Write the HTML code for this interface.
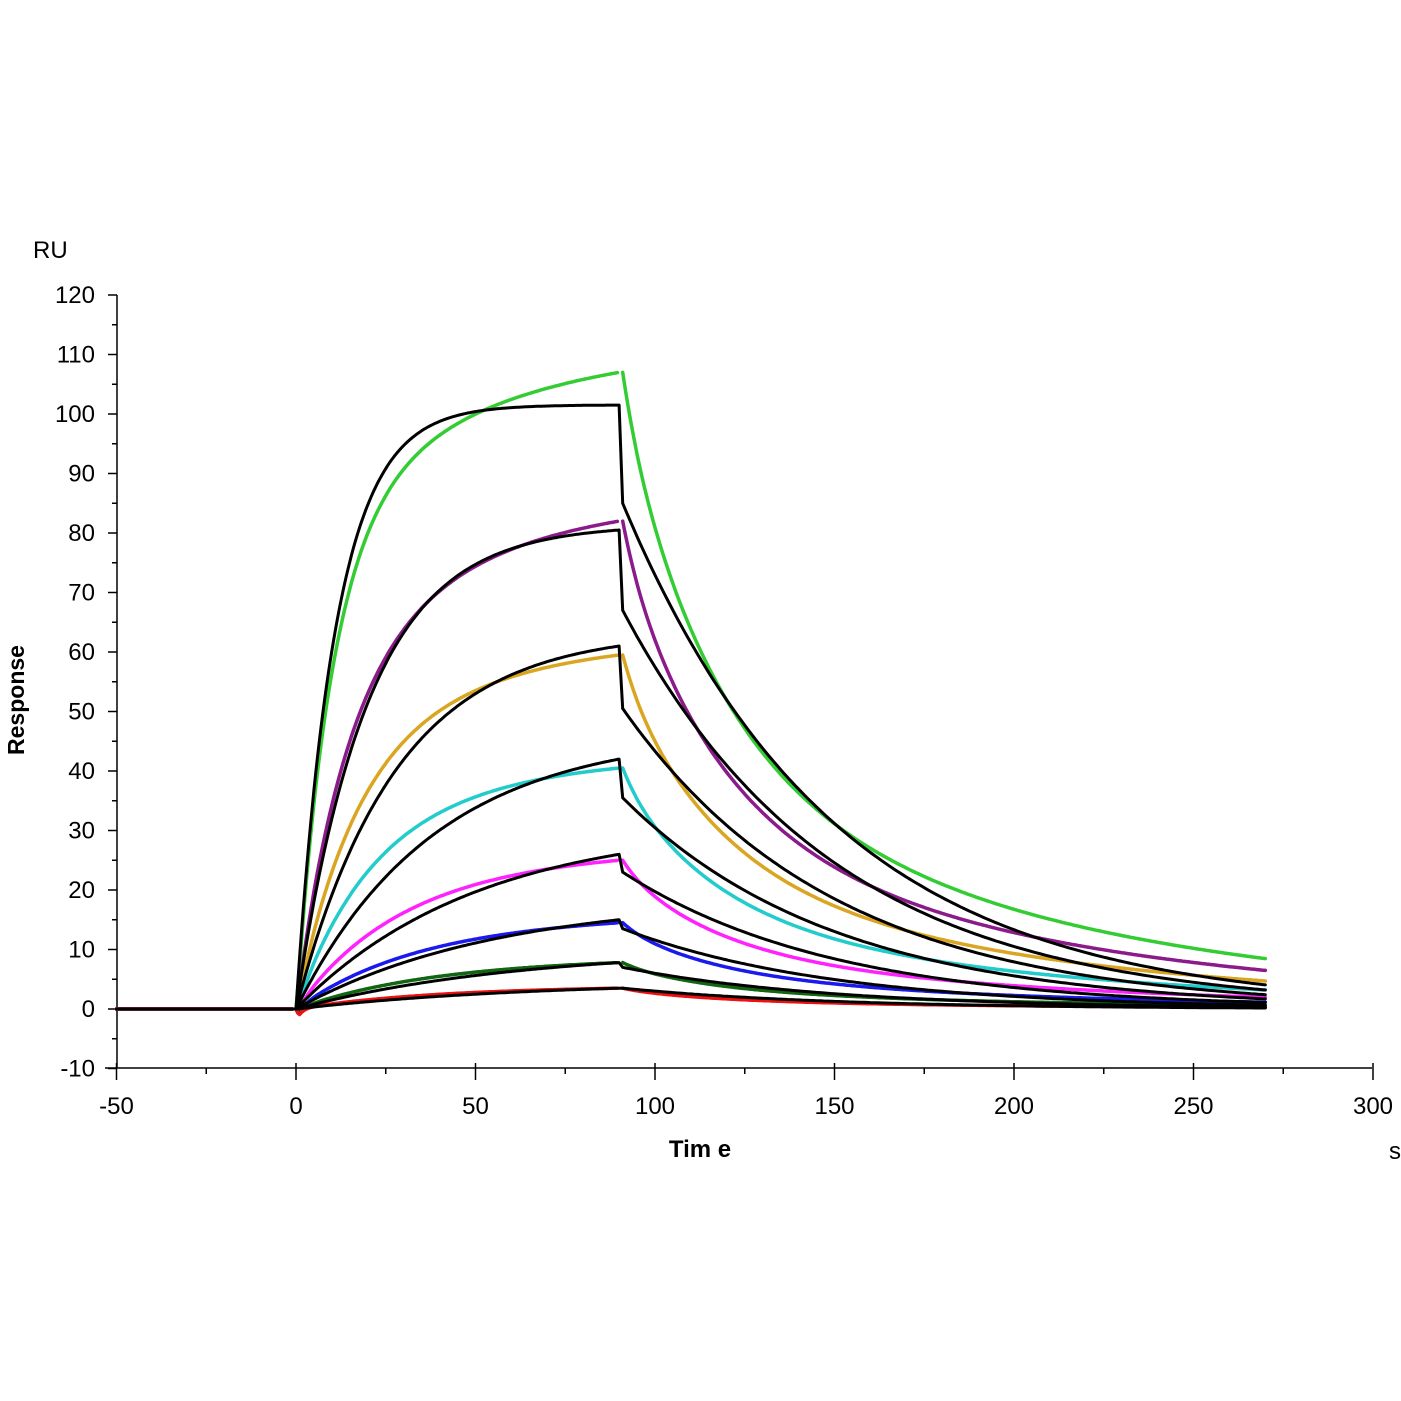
<!DOCTYPE html>
<html><head><meta charset="utf-8"><style>
body{margin:0;background:#fff}
svg{display:block}
text{font-family:"Liberation Sans",Arial,sans-serif;fill:#000}
</style></head><body>
<svg id="s" width="1401" height="1401" viewBox="0 0 1401 1401" xmlns="http://www.w3.org/2000/svg">
<rect width="1401" height="1401" fill="#fff"/>
<g id="axes" stroke="#000" stroke-width="1.5" fill="none"></g>
<g id="curves" fill="none" stroke-linejoin="round" stroke-linecap="round"></g>
<g font-size="24" id="labels"></g>
<text x="33" y="258" font-size="24">RU</text>
<text x="24" y="700" font-size="23" font-weight="bold" text-anchor="middle" transform="rotate(-90 24 700)">Response</text>
<text x="700" y="1157" font-size="24" font-weight="bold" text-anchor="middle">Tim e</text>
<text x="1395" y="1159" font-size="24" text-anchor="middle">s</text>
</svg>
<script>
const X=t=>296+3.59*t, Y=v=>1009-5.95*v;
const ax=document.getElementById('axes'), lb=document.getElementById('labels'), cv=document.getElementById('curves');
let a='';
a+=`<path d="M117 295V1068M105 1068H1372"/>`;
for(let v=-10;v<=120;v+=5){const y=Y(v);a+=`<path d="M${v%10==0?108:112} ${y}H117"/>`;
 if(v%10==0) lb.innerHTML+=`<text x="95" y="${y+8}" text-anchor="end">${v}</text>`;}
for(let t=-50;t<=300;t+=25){const x=X(t);const maj=t%50==0;a+=`<path d="M${x} ${maj?1063:1068}V${maj?1080:1074}"/>`;
 if(maj) lb.innerHTML+=`<text x="${x}" y="1114" text-anchor="middle">${t}</text>`;}
ax.innerHTML=a;
function path(f,t0,t1,dt){let d='';for(let t=t0;t<=t1+1e-9;t+=dt){d+=(d?'L':'M')+X(t).toFixed(1)+' '+Y(f(t)).toFixed(1);}return d;}
const cols=['#33cc33','#8b1a8b','#daa520','#22cccc','#ff22ff','#1a1aee','#116611','#ee1111'];
const peaks=[107,82,59.5,40.5,25,14.5,7.8,3.5];
const bp=[101.5,80.5,61,42,26,15,7.8,3.5];
const bk=[0.09,0.05,0.036,0.026,0.02,0.018,0.016,0.015];
const drop=[85,67,50.5,35.5,23,13.5,7,3.5];
let h='';
peaks.forEach((P,i)=>{
 const k1=[0.1,0.07,0.06,0.05,0.04,0.035,0.03,0.03][i];
 const a1=[0.75,0.7,0.72,0.72,0.6,0.5,0.5,0.5][i];
 const as=t=>{const dip=-2*Math.exp(-t/1.5)*Math.min(t,1);return P*(a1*(1-Math.exp(-k1*t))/(1-Math.exp(-90*k1))+(1-a1)*(1-Math.exp(-0.02*t))/(1-Math.exp(-1.8)))+dip;};
 const ds=t=>{const d=t-91;return P/107*(8*Math.exp(-0.2*d)+57*Math.exp(-0.037*d)+42*Math.exp(-0.009*d));};
 h+=`<path stroke="${cols[i]}" stroke-width="3.5" d="${path(()=>0,-50,-1,1)} ${path(as,0,89.5,0.5)} M${X(91)} ${Y(P)} ${path(ds,91,270,0.5).replace('M','L')}"/>`;
});
bp.forEach((P,i)=>{
 const k=bk[i];const R=P/(1-Math.exp(-90*k));
 const as=t=>R*(1-Math.exp(-k*t));
 const ds=t=>drop[i]*Math.exp(-0.017*(t-91));
 h+=`<path stroke="#000" stroke-width="3" d="${path(()=>0,-50,-0.5,0.5)} ${path(as,0,90,0.5)} L${X(91)} ${Y(drop[i])} ${path(ds,91,270,1)}"/>`;
});
cv.innerHTML=h;
</script>
</body></html>
